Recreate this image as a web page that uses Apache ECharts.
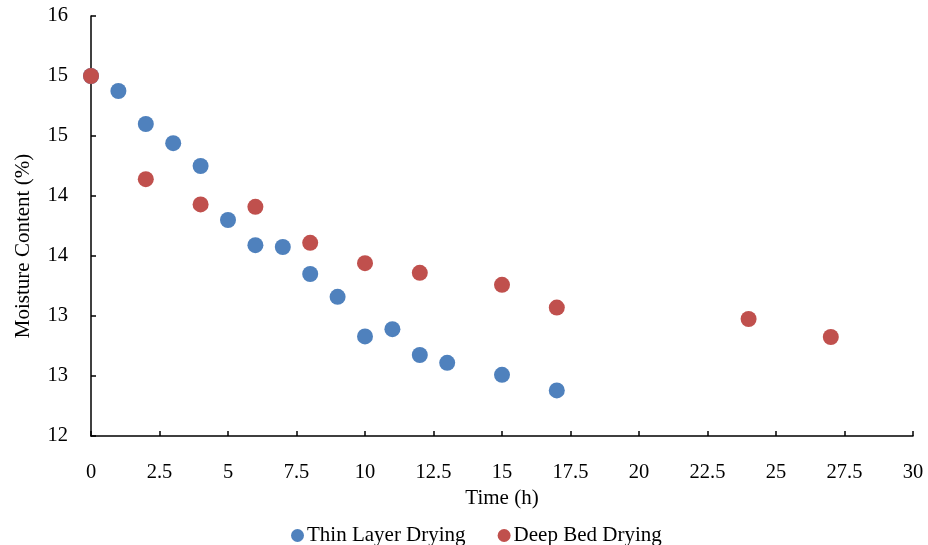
<!DOCTYPE html>
<html><head><meta charset="utf-8">
<script src="https://cdn.jsdelivr.net/npm/echarts@6/dist/echarts.min.js"></script>
<style>html,body{margin:0;padding:0;background:#fff}#c{width:928px;height:545px}</style>
</head><body><div id="c"></div>
<script>
const thinX = [0, 1, 2, 3, 4, 5, 6, 7, 8, 9, 10, 11, 12, 13, 15, 17];
const thinY = [15.0, 14.875, 14.6, 14.44, 14.25, 13.8, 13.59, 13.575, 13.35, 13.16, 12.83, 12.89, 12.675, 12.61, 12.51, 12.38];
const deepX = [0, 2, 4, 6, 8, 10, 12, 15, 17, 24, 27];
const deepY = [15.0, 14.14, 13.93, 13.91, 13.61, 13.44, 13.36, 13.26, 13.07, 12.975, 12.825];
const xTitle = 'Time (h)';
const yTitle = 'Moisture Content (%)';
const seriesNames = ['Thin Layer Drying', 'Deep Bed Drying'];

const font = 'Liberation Serif, Times New Roman, serif';
const chart = echarts.init(document.getElementById('c'));
chart.setOption({
  animation: false,
  textStyle: {fontFamily: font},
  grid: {left: 91, right: 15, top: 16, bottom: 109, containLabel: false, outerBoundsMode: 'none'},
  legend: {
    top: 520, left: 286, itemGap: 32, itemWidth: 13, itemHeight: 13,
    textStyle: {fontFamily: font, fontSize: 21, color: '#000', padding: [0, 0, 0, -2]},
    data: [{name: seriesNames[0], icon: 'circle'}, {name: seriesNames[1], icon: 'circle'}]
  },
  xAxis: {
    type: 'value', min: 0, max: 30, interval: 2.5,
    name: xTitle, nameLocation: 'middle', nameGap: 50,
    nameTextStyle: {fontFamily: font, fontSize: 21, color: '#000'},
    axisLine: {lineStyle: {color: '#000', width: 1.5}},
    axisTick: {inside: true, length: 5, lineStyle: {color: '#000', width: 1.5}},
    axisLabel: {fontFamily: font, fontSize: 20.5, color: '#000', margin: 26},
    splitLine: {show: false}
  },
  yAxis: {
    type: 'value', min: 12, max: 15.5, interval: 0.5,
    name: yTitle, nameLocation: 'middle', nameGap: 57, nameRotate: 90,
    nameTextStyle: {fontFamily: font, fontSize: 21, color: '#000', padding: [0, 40, 0, 0]},
    axisLine: {lineStyle: {color: '#000', width: 1.5}},
    axisTick: {inside: true, length: 5, lineStyle: {color: '#000', width: 1.5}},
    axisLabel: {fontFamily: font, fontSize: 20.5, color: '#000', margin: 23,
      formatter: v => String(Math.round(v))},
    splitLine: {show: false}
  },
  series: [
    {name: seriesNames[0], type: 'scatter', symbolSize: 16,
     itemStyle: {color: '#4F81BD', opacity: 1},
     data: thinX.map((x, i) => [x, thinY[i]])},
    {name: seriesNames[1], type: 'scatter', symbolSize: 16,
     itemStyle: {color: '#C0504D', opacity: 1},
     data: deepX.map((x, i) => [x, deepY[i]])}
  ]
});
</script></body></html>
